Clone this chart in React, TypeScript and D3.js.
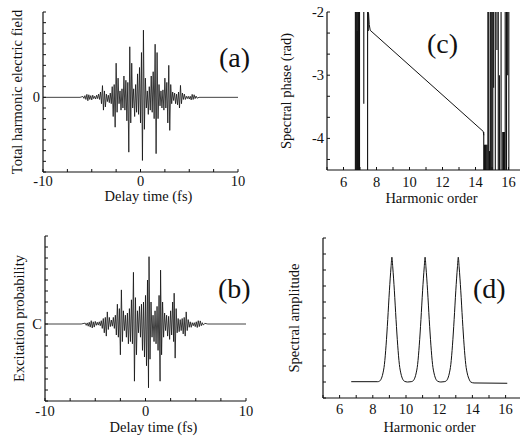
import React from "react";
import * as d3 from "d3";

// tick labels
const timeTicks = [-10, 0, 10];
const orderTicks = [6, 8, 10, 12, 14, 16];
const phaseTicks = [-2, -3, -4];

// (a) total harmonic electric field: [delay time fs, field]
const fieldA: [number, number][] = [
  [-10, 0], [-6.2, 0], [-5.9, 0.04], [-5.8, -0.05], [-5.7, 0.08], [-5.6, -0.1], [-5.5, 0.14], [-5.4, -0.16],
  [-5.3, 0.12], [-5.2, -0.1], [-5.1, 0.08], [-5.0, -0.12], [-4.9, 0.1], [-4.8, -0.06], [-4.7, 0.05], [-4.6, -0.08],
  [-4.5, 0.1], [-4.4, -0.06], [-4.3, 0.15], [-4.2, -0.1], [-4.1, 0.25], [-4.0, -0.3], [-3.9, 0.55], [-3.8, -0.6],
  [-3.7, 0.3], [-3.6, -0.45], [-3.5, 0.15], [-3.4, -0.2], [-3.3, 0.1], [-3.2, -0.25], [-3.1, 0.2], [-3.0, -0.3],
  [-2.9, 0.5], [-2.8, -0.9], [-2.7, 0.6], [-2.6, -1.4], [-2.5, 1.6], [-2.4, -0.7], [-2.3, 0.9], [-2.2, -0.3],
  [-2.1, 0.3], [-2.0, -0.6], [-1.9, 0.4], [-1.8, -0.5], [-1.7, 1.0], [-1.6, -0.6], [-1.5, 0.8], [-1.4, -1.1],
  [-1.3, 0.7], [-1.2, -2.57], [-1.1, 2.37], [-1.0, -1.2], [-0.9, 1.6], [-0.8, -0.5], [-0.7, 0.4], [-0.6, -0.9],
  [-0.5, 0.6], [-0.4, -0.7], [-0.3, 1.1], [-0.2, -0.8], [-0.1, 1.4], [0.0, -1.2], [0.1, 2.1], [0.2, -2.96],
  [0.3, 3.15], [0.4, -1.5], [0.5, 0.9], [0.6, -0.5], [0.7, 0.3], [0.8, -0.8], [0.9, 0.5], [1.0, -0.6],
  [1.1, 1.0], [1.2, -0.7], [1.3, 1.2], [1.4, -1.0], [1.5, 2.49], [1.6, -2.64], [1.7, 2.1], [1.8, -1.0],
  [1.9, 0.6], [2.0, -0.4], [2.1, 0.3], [2.2, -0.5], [2.3, 0.35], [2.4, -0.6], [2.5, 0.9], [2.6, -0.5],
  [2.7, 0.7], [2.8, -1.2], [2.9, 1.5], [3.0, -1.55], [3.1, 0.6], [3.2, -0.3], [3.3, 0.25], [3.4, -0.15],
  [3.5, 0.2], [3.6, -0.3], [3.7, 0.15], [3.8, -0.35], [3.9, 0.25], [4.0, -0.5], [4.1, 0.56], [4.2, -0.3],
  [4.3, 0.2], [4.4, -0.1], [4.5, 0.15], [4.6, -0.1], [4.7, 0.05], [4.8, -0.06], [4.9, 0.05], [5.0, -0.08],
  [5.1, 0.05], [5.2, -0.12], [5.3, 0.14], [5.4, -0.1], [5.5, 0.12], [5.6, -0.06], [5.7, 0.06], [5.8, -0.04],
  [6.0, 0], [10, 0],
];

// (b) excitation probability: [delay time fs, value]
const fieldB: [number, number][] = [
  [-10, 0], [-6.4, 0], [-6.0, 0.04], [-5.9, -0.06], [-5.8, 0.05], [-5.7, -0.1], [-5.6, 0.08], [-5.5, -0.14],
  [-5.4, 0.15], [-5.3, -0.18], [-5.2, 0.1], [-5.1, -0.14], [-5.0, 0.12], [-4.9, -0.06], [-4.8, 0.08], [-4.7, -0.05],
  [-4.6, 0.1], [-4.5, -0.08], [-4.4, 0.15], [-4.3, -0.2], [-4.2, 0.25], [-4.1, -0.4], [-4.0, 0.3], [-3.9, -0.55],
  [-3.8, 0.55], [-3.7, -0.25], [-3.6, 0.3], [-3.5, -0.12], [-3.4, 0.18], [-3.3, -0.1], [-3.2, 0.3], [-3.1, -0.2],
  [-3.0, 0.4], [-2.9, -0.5], [-2.8, 0.9], [-2.7, -0.6], [-2.6, 0.7], [-2.5, -1.4], [-2.4, 1.55], [-2.3, -0.8],
  [-2.2, 0.6], [-2.1, -0.3], [-2.0, 0.4], [-1.9, -0.6], [-1.8, 0.5], [-1.7, -0.9], [-1.6, 0.7], [-1.5, -0.8],
  [-1.4, 1.1], [-1.3, -0.9], [-1.2, 2.35], [-1.1, -2.6], [-1.0, 1.2], [-0.9, -1.4], [-0.8, 0.6], [-0.7, -0.4],
  [-0.6, 0.8], [-0.5, -0.6], [-0.4, 0.9], [-0.3, -1.2], [-0.2, 1.0], [-0.1, -1.5], [0.0, 1.3], [0.1, -1.9],
  [0.2, 2.0], [0.3, -2.9], [0.35, 3.06], [0.45, -1.6], [0.55, 1.0], [0.65, -0.6], [0.75, 0.4], [0.85, -0.8],
  [0.95, 0.6], [1.05, -0.9], [1.15, 0.8], [1.25, -1.2], [1.35, 1.3], [1.45, -2.6], [1.5, 2.45], [1.6, -1.4],
  [1.7, 1.0], [1.8, -0.6], [1.9, 0.5], [2.0, -0.3], [2.1, 0.4], [2.2, -0.55], [2.3, 0.35], [2.4, -0.7],
  [2.5, 0.6], [2.6, -0.5], [2.7, 1.0], [2.8, -0.8], [2.85, 1.4], [2.95, -1.55], [3.05, 0.7], [3.15, -0.4],
  [3.25, 0.25], [3.35, -0.35], [3.45, 0.2], [3.55, -0.3], [3.65, 0.25], [3.75, -0.45], [3.85, 0.3], [3.95, -0.55],
  [4.05, 0.55], [4.15, -0.3], [4.25, 0.2], [4.35, -0.15], [4.45, 0.1], [4.55, -0.15], [4.65, 0.06], [4.75, -0.08],
  [4.85, 0.06], [4.95, -0.12], [5.05, 0.1], [5.15, -0.16], [5.25, 0.15], [5.35, -0.12], [5.45, 0.14], [5.55, -0.08],
  [5.65, 0.06], [5.75, -0.05], [5.9, 0.03], [6.2, 0], [10, 0],
];

// (c) spectral phase: smooth part [harmonic order, rad]
const phaseLine: [number, number][] = [
  [7.52, -2.02], [7.56, -2.2], [7.62, -2.29], [14.47, -3.89], [14.5, -3.95],
];
// (c) phase wrapping strokes outside the harmonic band
const wrapX = [
  6.72, 6.76, 6.8, 6.83, 6.86, 6.9, 6.93, 6.97, 7.23, 7.46, 7.5,
  14.5, 14.55, 14.6, 14.65, 14.7, 14.75, 14.8, 14.85, 14.9, 14.95, 15.0, 15.05, 15.1,
  15.2, 15.3, 15.38, 15.45, 15.55, 15.65, 15.7, 15.75, 15.8, 15.88, 15.95, 16.02,
];
const wrapTop = [
  -2, -2, -2, -2.3, -2, -2, -2, -2, -2, -2, -2,
  -3.9, -4.1, -4.1, -4.1, -4.1, -2, -2, -4.2, -2, -2, -2, -2, -2,
  -2, -2, -2, -3.0, -2, -3.9, -3.9, -3.9, -2, -2, -2, -2,
];
const wrapBottom = [
  -4.5, -4.5, -4.5, -4.5, -4.5, -4.5, -4.5, -4.5, -3.45, -4.5, -2.3,
  -4.5, -4.5, -4.5, -4.5, -4.5, -4.5, -4.5, -4.5, -4.5, -4.5, -4.5, -4.5, -3.2,
  -4.5, -2.6, -4.5, -4.5, -4.5, -4.5, -4.5, -4.5, -4.5, -4.5, -3.0, -4.5,
];

// (d) spectral amplitude: [harmonic order, amplitude]
const amplitude: [number, number][] = [
  [6.7, 0.102], [8.3, 0.102], [8.4, 0.105], [8.5, 0.118], [8.6, 0.15], [8.7, 0.21], [8.8, 0.33], [8.9, 0.49],
  [9.0, 0.67], [9.1, 0.82], [9.15, 0.88], [9.2, 0.82], [9.3, 0.67], [9.4, 0.49], [9.5, 0.33], [9.6, 0.21],
  [9.7, 0.15], [9.8, 0.118], [9.9, 0.105], [10.1, 0.1], [10.3, 0.102], [10.4, 0.105], [10.5, 0.118], [10.6, 0.15],
  [10.7, 0.21], [10.8, 0.33], [10.9, 0.49], [11.0, 0.67], [11.1, 0.82], [11.15, 0.88], [11.2, 0.82], [11.3, 0.67],
  [11.4, 0.49], [11.5, 0.33], [11.6, 0.21], [11.7, 0.15], [11.8, 0.118], [11.9, 0.105], [12.1, 0.1], [12.3, 0.102],
  [12.4, 0.105], [12.5, 0.118], [12.6, 0.15], [12.7, 0.21], [12.8, 0.33], [12.9, 0.49], [13.0, 0.67], [13.1, 0.82],
  [13.15, 0.88], [13.2, 0.82], [13.3, 0.67], [13.4, 0.49], [13.5, 0.33], [13.6, 0.21], [13.7, 0.15], [13.8, 0.118],
  [13.9, 0.1], [14.1, 0.094], [16.1, 0.092],
];

const FONT = "'Liberation Serif', 'Times New Roman', serif";
const INK = "#111";

function Frame({
  box, x, y, xTicks, yTicks, xLabels, yLabels, yLabelText, xLabelDy, xTitle, xTitleY, yTitle, yTitleX, tag, tagX, tagY,
}: any) {
  return (
    <g style={{ fontFamily: FONT }} fill={INK}>
      <line x1={box.left} x2={box.left} y1={box.top} y2={box.bottom} stroke={INK} strokeWidth={1.2} />
      <line x1={box.left} x2={box.right} y1={box.bottom} y2={box.bottom} stroke={INK} strokeWidth={1.2} />
      {yTicks.map((t: number, i: number) => (
        <line key={"yt" + i} x1={box.left} x2={box.left + 3} y1={y(t)} y2={y(t)} stroke={INK} strokeWidth={1} />
      ))}
      {xTicks.map((t: number, i: number) => (
        <line key={"xt" + i} x1={x(t)} x2={x(t)} y1={box.bottom} y2={box.bottom - 3} stroke={INK} strokeWidth={1} />
      ))}
      {yLabels.map((t: number, i: number) => (
        <text key={"yl" + i} x={box.left - 3} y={y(t)} dy="0.35em" textAnchor="end" fontSize={14.5}>
          {yLabelText ? yLabelText(t) : String(t)}
        </text>
      ))}
      {xLabels.map((t: number, i: number) => (
        <text key={"xl" + i} x={x(t)} y={box.bottom + xLabelDy} textAnchor="middle" fontSize={14.5}>
          {String(t)}
        </text>
      ))}
      <text x={(box.left + box.right) / 2 + 8} y={xTitleY} textAnchor="middle" fontSize={14.5}>
        {xTitle}
      </text>
      <text
        transform={`translate(${yTitleX},${(box.top + box.bottom) / 2}) rotate(-90)`}
        textAnchor="middle"
        fontSize={14.5}
      >
        {yTitle}
      </text>
      <text x={tagX} y={tagY} fontSize={28}>{tag}</text>
    </g>
  );
}

function SignalPanel({ box, data, yTitle, yTitleX, zeroText, tag, tagX, tagY, xLabelDy, xTitleY }: any) {
  const x = d3.scaleLinear().domain([-10, 10]).range([box.left, box.right]);
  const y = d3.scaleLinear().domain([-3.5, 4]).range([box.bottom, box.top]);
  const path = d3.line<[number, number]>().x((d) => x(d[0])).y((d) => y(d[1]))(data) || "";
  return (
    <g>
      <path d={path} fill="none" stroke={INK} strokeWidth={0.8} />
      <Frame
        box={box} x={x} y={y}
        xTicks={d3.range(-10, 10.01, 2.5)} yTicks={d3.range(-3.5, 4.01, 0.5)}
        xLabels={timeTicks} yLabels={[0]} yLabelText={() => zeroText}
        xLabelDy={xLabelDy} xTitle="Delay time (fs)" xTitleY={xTitleY}
        yTitle={yTitle} yTitleX={yTitleX} tag={tag} tagX={tagX} tagY={tagY}
      />
    </g>
  );
}

function PhasePanel() {
  const box = { left: 327, right: 520, top: 12, bottom: 170 };
  const x = d3.scaleLinear().domain([5, 5 + (box.right - box.left) / 16.5]).range([box.left, box.right]);
  const y = d3.scaleLinear().domain([-4.5, -2]).range([box.bottom, box.top]);
  const path = d3.line<[number, number]>().x((d) => x(d[0])).y((d) => y(d[1]))(phaseLine) || "";
  return (
    <g>
      <clipPath id="clipC">
        <rect x={box.left} y={box.top} width={box.right - box.left} height={box.bottom - box.top} />
      </clipPath>
      <g clipPath="url(#clipC)">
        {wrapX.map((v, i) => (
          <line key={i} x1={x(v)} x2={x(v)} y1={y(wrapTop[i])} y2={y(wrapBottom[i])} stroke={INK} strokeWidth={1.1} />
        ))}
        <path d={path} fill="none" stroke={INK} strokeWidth={1} />
      </g>
      <Frame
        box={box} x={x} y={y}
        xTicks={d3.range(5, 16.9, 1)} yTicks={d3.range(0, 8).map((k) => -2 - k / 3)}
        xLabels={orderTicks} yLabels={phaseTicks}
        xLabelDy={17} xTitle="Harmonic order" xTitleY={203}
        yTitle="Spectral phase (rad)" yTitleX={291} tag="(c)" tagX={427} tagY={53}
      />
    </g>
  );
}

function AmplitudePanel() {
  const box = { left: 323, right: 520, top: 238, bottom: 398 };
  const x = d3.scaleLinear().domain([5, 5 + (box.right - box.left) / 16.6]).range([box.left, box.right]);
  const y = d3.scaleLinear().domain([0, 1]).range([box.bottom, box.top]);
  const path = d3.line<[number, number]>().x((d) => x(d[0])).y((d) => y(d[1])).curve(d3.curveMonotoneX)(amplitude) || "";
  return (
    <g>
      <path d={path} fill="none" stroke={INK} strokeWidth={1} />
      <Frame
        box={box} x={x} y={y}
        xTicks={d3.range(5, 16.9, 1)} yTicks={d3.range(0, 1.001, 0.1)}
        xLabels={orderTicks} yLabels={[]}
        xLabelDy={16} xTitle="Harmonic order" xTitleY={432}
        yTitle="Spectral amplitude" yTitleX={299} tag="(d)" tagX={473} tagY={298}
      />
    </g>
  );
}

export default function App() {
  return (
    <svg
      width={520}
      height={441}
      style={{ position: "fixed", left: 0, top: 0, background: "#fff" }}
    >
      <rect width={520} height={441} fill="#fff" />
      <SignalPanel
        box={{ left: 43, right: 238, top: 12, bottom: 172 }}
        data={fieldA} yTitle="Total harmonic electric field" yTitleX={22} zeroText="0"
        tag="(a)" tagX={219} tagY={67} xLabelDy={14} xTitleY={201}
      />
      <SignalPanel
        box={{ left: 45, right: 246, top: 236, bottom: 401 }}
        data={fieldB} yTitle="Excitation probability" yTitleX={24} zeroText="C"
        tag="(b)" tagX={218} tagY={298} xLabelDy={15} xTitleY={432}
      />
      <PhasePanel />
      <AmplitudePanel />
    </svg>
  );
}
